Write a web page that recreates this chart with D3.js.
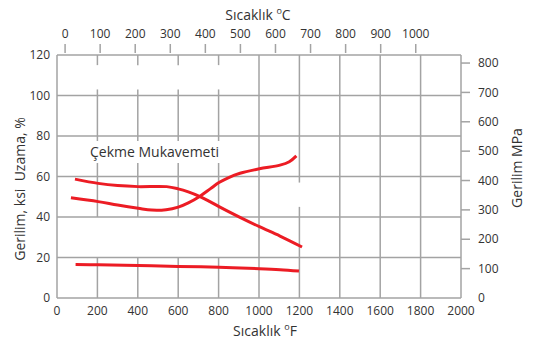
<!DOCTYPE html>
<html>
<head>
<meta charset="utf-8">
<script src="https://cdn.jsdelivr.net/npm/d3@7"></script>
<style>
  html, body { margin: 0; padding: 0; background: #fff; }
  svg { display: block; font-family: "Open Sans", "Noto Sans", sans-serif; }
</style>
</head>
<body>
<svg id="chart" width="535" height="340"></svg>
<script>
// ---------- data ----------
const tempFTicks = [0, 200, 400, 600, 800, 1000, 1200, 1400, 1600, 1800, 2000];
const tempCTicks = [0, 100, 200, 300, 400, 500, 600, 700, 800, 900, 1000];
const ksiTicks = [0, 20, 40, 60, 80, 100, 120];
const mpaTicks = [0, 100, 200, 300, 400, 500, 600, 700, 800];
const celsiusAxisAtF = [40, 1776];   // °F positions where the 0 and 1000 °C ticks sit
const ksiPerMpa = 1 / 6.895;

// Tensile strength (ksi)
const tensileF   = [89, 204, 300, 402, 543, 600, 650, 708, 757, 802, 906, 1002, 1104, 1213];
const tensileKsi = [58.7, 56.6, 55.5, 55.0, 55.0, 53.9, 52.4, 50.1, 47.6, 45.1, 39.8, 35.2, 30.6, 25.2];
// Elongation (%)
const elongF   = [69, 204, 300, 402, 469, 540, 600, 650, 708, 760, 802, 850, 906, 1002, 1104, 1150, 1185];
const elongPct = [49.5, 47.6, 45.9, 44.3, 43.4, 43.6, 44.9, 47.0, 50.3, 54.0, 57.0, 59.5, 61.6, 63.8, 65.6, 67.3, 70.2];
// Lower curve (ksi)
const lowerF   = [92, 204, 402, 600, 802, 1002, 1104, 1198];
const lowerKsi = [16.5, 16.4, 16.0, 15.6, 15.2, 14.5, 14.0, 13.3];

// gaps in vertical grid lines (ksi ranges), as in the original artwork
const gridGaps = {200: [[103, 115], [20, 40]], 400: [[103, 115], [20, 40]],
                  600: [[103, 115], [20, 40]], 800: [[103, 115], [20, 40]],
                  1200: [[45, 57]]};

const curveLabel = "Çekme Mukavemeti";

// ---------- drawing ----------
const svg = d3.select("#chart");
const gridColor = "#a3a3a3";
const textColor = "#333";
const red = "#ec1c24";

const x = d3.scaleLinear().domain([0, 2000]).range([57, 461]);
const y = d3.scaleLinear().domain([0, 120]).range([298, 55]);
const xC = d3.scaleLinear().domain([0, 1000]).range([x(celsiusAxisAtF[0]), x(celsiusAxisAtF[1])]);

const grid = svg.append("g").attr("stroke", gridColor).attr("stroke-width", 1.5).attr("fill", "none");

// horizontal grid lines
grid.selectAll("line.h").data(ksiTicks).join("line")
  .attr("class", "h")
  .attr("x1", x(0)).attr("x2", x(2000))
  .attr("y1", d => y(d)).attr("y2", d => y(d));

// vertical grid lines, as segments
const vSegs = [];
tempFTicks.forEach(f => {
  const gaps = (gridGaps[f] || []).slice().sort((a, b) => a[0] - b[0]);
  let lo = 0;
  gaps.forEach(g => { vSegs.push({f, a: lo, b: g[0]}); lo = g[1]; });
  vSegs.push({f, a: lo, b: 120});
});
grid.selectAll("line.v").data(vSegs).join("line")
  .attr("class", "v")
  .attr("x1", d => x(d.f)).attr("x2", d => x(d.f))
  .attr("y1", d => y(d.a)).attr("y2", d => y(d.b));

// right MPa ticks
grid.selectAll("line.r").data(mpaTicks.slice(1)).join("line")
  .attr("class", "r")
  .attr("x1", x(2000)).attr("x2", x(2000) + 9)
  .attr("y1", d => y(d * ksiPerMpa)).attr("y2", d => y(d * ksiPerMpa));

// top Celsius ticks
grid.selectAll("line.t").data(tempCTicks).join("line")
  .attr("class", "t")
  .attr("x1", d => xC(d)).attr("x2", d => xC(d))
  .attr("y1", y(120) - 11).attr("y2", y(120) - 2);

// labels
const lab = svg.append("g").attr("fill", textColor).attr("font-size", 12);
lab.selectAll("text.l").data(ksiTicks).join("text")
  .attr("x", x(0) - 7).attr("y", d => y(d)).attr("dy", "0.35em")
  .attr("text-anchor", "end").text(d => d);
lab.selectAll("text.b").data(tempFTicks).join("text")
  .attr("x", d => x(d)).attr("y", y(0) + 13).attr("dy", "0.35em")
  .attr("text-anchor", "middle").text(d => d);
lab.selectAll("text.rr").data(mpaTicks).join("text")
  .attr("x", x(2000) + 17).attr("y", d => y(d * ksiPerMpa)).attr("dy", "0.35em")
  .attr("text-anchor", "start").text(d => d);
lab.selectAll("text.tt").data(tempCTicks).join("text")
  .attr("x", d => xC(d)).attr("y", y(120) - 21).attr("dy", "0.35em")
  .attr("text-anchor", "middle").text(d => d);

// titles
function degTitle(tx, ty, unit) {
  const t = svg.append("text").attr("x", tx).attr("y", ty).attr("text-anchor", "middle")
    .attr("font-size", 14).attr("fill", textColor);
  t.append("tspan").text("Sıcaklık ");
  t.append("tspan").attr("font-size", 9).attr("dy", -6).text("o");
  t.append("tspan").attr("dy", 6).text(unit);
}
degTitle(258, 20, "C");
degTitle(265, 336, "F");

svg.append("text").attr("transform", "translate(25,189) rotate(-90)")
  .attr("text-anchor", "middle").attr("font-size", 14).attr("fill", textColor)
  .attr("xml:space", "preserve").text("Gerilim, ksi  Uzama, %");
svg.append("text").attr("transform", "translate(522,168) rotate(-90)")
  .attr("text-anchor", "middle").attr("font-size", 14).attr("fill", textColor)
  .text("Gerilim MPa");

// curve label with white backing
const lblG = svg.append("g");
const lbl = lblG.append("text").attr("x", 90).attr("y", 157)
  .attr("font-size", 14).attr("fill", textColor).text(curveLabel);
const bb = lbl.node().getBBox();
lblG.insert("rect", "text").attr("x", bb.x - 2).attr("y", bb.y - 1)
  .attr("width", bb.width + 4).attr("height", bb.height + 3).attr("fill", "#fff");

// curves
const line = d3.line().x(d => x(d[0])).y(d => y(d[1])).curve(d3.curveCatmullRom.alpha(0.5));
const series = [
  d3.zip(tensileF, tensileKsi),
  d3.zip(elongF, elongPct),
  d3.zip(lowerF, lowerKsi)
];
svg.append("g").selectAll("path").data(series).join("path")
  .attr("d", line).attr("fill", "none").attr("stroke", red)
  .attr("stroke-width", 3).attr("stroke-linecap", "butt");
</script>
</body>
</html>
